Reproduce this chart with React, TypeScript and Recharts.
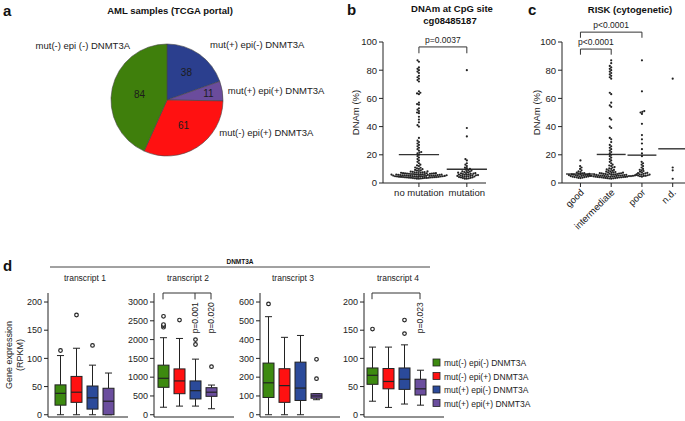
import {
  Bar,
  Cell,
  ComposedChart,
  Pie,
  PieChart,
  ReferenceLine,
  Scatter,
  ScatterChart,
  XAxis,
  YAxis,
} from "recharts";

const FONT = '"Liberation Sans", Arial, Helvetica, sans-serif';
const INK = "#222";

// ---- panel a: AML samples ----
const pieNames = ["mut(+) epi(-) DNMT3A", "mut(+) epi(+) DNMT3A", "mut(-) epi(+) DNMT3A", "mut(-) epi (-) DNMT3A"];
const pieCounts = [38, 11, 61, 84];
const pieColors = ["#2b3f8e", "#6b4c9c", "#ff1111", "#3f7f0c"];

// ---- panel b: DNAm at cg08485187 by mutation status ----
const mutationGroups = ["no mutation", "mutation"];
const noMutationDNAm = [
  87, 86, 82, 81, 80, 79, 78, 76, 75, 74, 73, 72, 65, 64, 63.5, 63, 57, 56, 55.5, 53, 52, 51, 50, 49.5,
  47, 45, 43, 41, 40, 32, 30, 29, 28, 27, 26, 25, 24, 23, 22, 21.5, 21, 20, 19, 18, 17, 16, 15, 14, 13,
  12, 12.5, 11, 10.8, 10.4, 10, 9.8, 9.3, 9, 8.8, 8.5, 8.2, 8, 7.9, 7.7, 7.6, 7.5, 7.4, 7.3, 7.2, 7.1,
  7.0, 7.0, 6.9, 6.8, 6.8, 6.7, 6.6, 6.5, 6.5, 6.4, 6.3, 6.3, 6.2, 6.1, 6.0, 6.0, 6.0, 5.9, 5.9, 5.8,
  5.8, 5.7, 5.7, 5.6, 5.6, 5.5, 5.5, 5.4, 5.4, 5.3, 5.3, 5.2, 5.2, 5.1, 5.1, 5.0, 5.0, 5.0, 4.9, 4.9,
  4.8, 4.8, 4.7, 4.7, 4.6, 4.6, 4.5, 4.5, 4.4, 4.4, 4.3, 4.3, 4.2, 4.2, 4.1, 4.0, 4.0, 3.9, 3.9, 3.8,
  3.8, 3.7, 3.6, 3.6, 3.5, 3.4, 3.3, 3.2, 3.1, 3.0,
];
const mutationDNAm = [
  80, 39, 33, 17, 16, 14, 13, 12, 11, 10.5, 10, 9.6, 9.2, 8.8, 8.5, 8.2, 8, 7.8, 7.5, 7.3, 7.1, 7, 6.8,
  6.6, 6.5, 6.3, 6.2, 6, 5.9, 5.8, 5.6, 5.5, 5.4, 5.3, 5.1, 5, 4.9, 4.8, 4.6, 4.5, 4.4, 4.2, 4, 3.9,
  3.7, 3.5, 3.3, 3.1, 3,
];

// ---- panel c: DNAm by cytogenetic risk ----
const riskGroups = ["good", "intermediate", "poor", "n.d."];
const goodDNAm = [
  16, 12, 11, 10, 9, 8.2, 7.8, 7.4, 7.1, 6.9, 6.7, 6.5, 6.3, 6.1, 6, 5.9, 5.7, 5.6, 5.5, 5.4, 5.2, 5.1,
  5, 4.9, 4.8, 4.6, 4.5, 4.4, 4.2, 4.1, 4, 3.8, 3.6, 3.5,
];
const intermediateDNAm = [
  87, 85, 83, 82, 81, 80, 79, 78, 77, 76, 75, 74, 64, 63, 57, 55, 54, 46, 45, 40, 39, 32, 31, 29, 27,
  26, 25, 24, 23, 22, 21, 20, 19, 18, 17, 16, 15, 14, 13, 12, 12.4, 11, 11.3, 10, 10.4, 9, 9.3, 9.6, 8,
  8.3, 8.6, 7.8, 7.6, 7.5, 7.3, 7.2, 7, 6.9, 6.8, 6.7, 6.6, 6.5, 6.4, 6.3, 6.2, 6.1, 6, 6, 5.9, 5.8,
  5.8, 5.7, 5.6, 5.6, 5.5, 5.5, 5.4, 5.4, 5.3, 5.3, 5.2, 5.2, 5.1, 5.1, 5, 5, 4.9, 4.9, 4.8, 4.8, 4.7,
  4.7, 4.6, 4.5, 4.5, 4.4, 4.3, 4.3, 4.2, 4.1, 4, 4, 3.9, 3.8, 3.7, 3.6, 3.5, 3.4, 3.3, 3.2, 3.1,
];
const poorDNAm = [
  87, 65, 51, 50.5, 50, 49, 42, 34, 31, 28, 24, 21, 19, 15, 14, 13, 12, 11, 10, 9.4, 9, 8.5, 8, 7.6,
  7.2, 7, 6.8, 6.5, 6.2, 6, 5.9, 5.8, 5.5, 5.3, 5.1, 5, 4.8, 4.5,
];
const notDeterminedDNAm = [74, 11, 9, 3];

// ---- panel d: DNMT3A transcript expression (RPKM) ----
const boxGroups = ["mut(-) epi(-) DNMT3A", "mut(-) epi(+) DNMT3A", "mut(+) epi(-) DNMT3A", "mut(+) epi(+) DNMT3A"];
const boxColors = ["#3d8a10", "#ff1111", "#2b4a9a", "#6b4e9e"];
// [min whisker, Q1, median, Q3, max whisker]
const transcript1Stats = [[0, 17, 38, 53, 105], [0, 22, 40, 68, 118], [0, 10, 30, 51, 88], [0, 0, 24, 47, 74]];
const transcript1Outliers = [[114], [177], [123], []];
const transcript2Stats = [[200, 730, 970, 1320, 2050], [230, 560, 900, 1220, 2030], [230, 420, 640, 900, 1480], [160, 490, 600, 720, 790]];
const transcript2Outliers = [[2330, 2370, 2400, 2620], [2520], [1870, 2000], [1280]];
const transcript3Stats = [[0, 92, 170, 275, 522], [0, 66, 155, 245, 412], [0, 76, 142, 280, 422], [80, 88, 100, 112, 112]];
const transcript3Outliers = [[590], [], [], [192, 295]];
const transcript4Stats = [[24, 54, 70, 83, 120], [13, 46, 59, 82, 120], [19, 45, 63, 83, 124], [17, 35, 46, 63, 79]];
const transcript4Outliers = [[152], [], [144, 168], []];

type ViewBox = { x?: number; y?: number; width?: number; height?: number };

const mean = (values: number[]) => values.reduce((s, v) => s + v, 0) / values.length;

// beeswarm layout: each dot goes to the free spot nearest the group centre.
// xPx / yPx are pixels per data unit on each axis, gap is the dot spacing in px.
function swarm(values: number[], center: number, xPx: number, yPx: number, gap: number) {
  const placed: { px: number; py: number }[] = [];
  const dots: { x: number; y: number }[] = [];
  [...values]
    .sort((a, b) => a - b)
    .forEach((v) => {
      const py = v * yPx;
      const blocked: [number, number][] = [];
      placed.forEach((p) => {
        const dy = Math.abs(p.py - py);
        if (dy < gap) {
          const half = Math.sqrt(gap * gap - dy * dy);
          blocked.push([p.px - half, p.px + half]);
        }
      });
      const candidates = [0, ...blocked.flat()].sort((a, b) => Math.abs(a) - Math.abs(b));
      const px = candidates.find((c) => blocked.every(([lo, hi]) => c <= lo + 1e-6 || c >= hi - 1e-6)) ?? 0;
      placed.push({ px, py });
      dots.push({ x: center + px / xPx, y: v });
    });
  return dots;
}

const dotShape = (p: any) => <circle cx={p.cx} cy={p.cy} r={1.1} fill={INK} />;

function pLabelAbove(text: string) {
  return ({ viewBox }: { viewBox?: ViewBox }) => {
    if (typeof viewBox?.x !== "number" || typeof viewBox.y !== "number") return null;
    return (
      <text x={viewBox.x + (viewBox.width ?? 0) / 2} y={viewBox.y - 4} textAnchor="middle" fontSize={8.5} fill={INK} fontFamily={FONT}>
        {text}
      </text>
    );
  };
}

function pLabelVertical(text: string, dx: number) {
  return ({ viewBox }: { viewBox?: ViewBox }) => {
    if (typeof viewBox?.x !== "number" || typeof viewBox.y !== "number") return null;
    const x = viewBox.x + dx;
    const y = viewBox.y + (viewBox.height ?? 0) + 3;
    return (
      <text x={x} y={y} transform={`rotate(-90 ${x} ${y})`} textAnchor="end" fontSize={8.5} fill={INK} fontFamily={FONT}>
        {text}
      </text>
    );
  };
}

const lineStyle = { stroke: "#333", strokeWidth: 1, ifOverflow: "visible" as const };

function bracket(key: string, from: any, to: any, top: number, drop: number, text: string) {
  return [
    <ReferenceLine key={`${key}h`} segment={[{ x: from, y: top }, { x: to, y: top }]} {...lineStyle} label={pLabelAbove(text)} />,
    <ReferenceLine key={`${key}l`} segment={[{ x: from, y: top }, { x: from, y: top - drop }]} {...lineStyle} />,
    <ReferenceLine key={`${key}r`} segment={[{ x: to, y: top }, { x: to, y: top - drop }]} {...lineStyle} />,
  ];
}

const axisTick = { fontSize: 9.5, fill: INK, fontFamily: FONT };

// ---------------- panel a ----------------
const pieLabelAngle = [52, 9, -32, 124];
const pieLabelRadius = [1.25, 1.1, 1.1, 1.18];
const pieValueRadius = [0.6, 0.75, 0.55, 0.5];

function renderPieLabel(props: any) {
  const { cx, cy, midAngle, outerRadius, index, value } = props;
  const rad = Math.PI / 180;
  const vr = outerRadius * pieValueRadius[index];
  const vx = cx + vr * Math.cos(midAngle * rad);
  const vy = cy - vr * Math.sin(midAngle * rad);
  const lr = outerRadius * pieLabelRadius[index];
  const la = pieLabelAngle[index] * rad;
  const lx = cx + lr * Math.cos(la);
  const ly = cy - lr * Math.sin(la);
  return (
    <g fontFamily={FONT}>
      <text x={vx} y={vy + 3.5} textAnchor="middle" fontSize={10} fill="#1c1c1c">
        {value}
      </text>
      <text x={lx} y={ly + 3.5} textAnchor={lx < cx ? "end" : "start"} fontSize={9.5} fill={INK}>
        {pieNames[index]}
      </text>
    </g>
  );
}

function PanelA() {
  const data = pieNames.map((name, i) => ({ name, value: pieCounts[i] }));
  return (
    <PieChart width={340} height={200} margin={{ top: 0, right: 0, bottom: 0, left: 0 }}>
      <Pie
        data={data}
        dataKey="value"
        cx={167}
        cy={100}
        outerRadius={56}
        startAngle={90}
        endAngle={-270}
        stroke="#444"
        strokeWidth={0.6}
        labelLine={false}
        label={renderPieLabel}
        isAnimationActive={false}
      >
        {data.map((d, i) => (
          <Cell key={d.name} fill={pieColors[i]} />
        ))}
      </Pie>
    </PieChart>
  );
}

// ---------------- panel b ----------------
function PanelB() {
  const groups = [noMutationDNAm, mutationDNAm];
  return (
    <ScatterChart width={150} height={200} margin={{ top: 42, right: 4, bottom: 0, left: 0 }}>
      <XAxis
        type="number"
        dataKey="x"
        domain={[-0.75, 1.4]}
        allowDataOverflow
        ticks={[0, 1]}
        interval={0}
        tickFormatter={(v) => mutationGroups[v]}
        tick={axisTick}
        tickSize={4}
        stroke={INK}
        height={17}
      />
      <YAxis
        type="number"
        dataKey="y"
        domain={[0, 100]}
        ticks={[0, 20, 40, 60, 80, 100]}
        width={43}
        tickSize={4}
        stroke={INK}
        tick={axisTick}
        label={{ value: "DNAm (%)", angle: -90, position: "insideLeft", offset: 16, style: { textAnchor: "middle", fontSize: 9.5, fill: INK, fontFamily: FONT } }}
      />
      {groups.map((vals, i) => (
        <Scatter key={mutationGroups[i]} data={swarm(vals, i, 47.9, 1.41, 2)} shape={dotShape} isAnimationActive={false} />
      ))}
      {groups.map((vals, i) => (
        <ReferenceLine
          key={`mean${i}`}
          segment={[{ x: i - 0.42, y: mean(vals) }, { x: i + 0.42, y: mean(vals) }]}
          stroke="#333"
          strokeWidth={1.4}
          ifOverflow="visible"
        />
      ))}
      {bracket("p", 0, 1, 96.5, 4.5, "p=0.0037")}
    </ScatterChart>
  );
}

// ---------------- panel c ----------------
function RiskTick(props: any) {
  const { x, y, payload } = props;
  const tx = x + 4;
  const ty = y + 4;
  return (
    <text x={tx} y={ty} transform={`rotate(-45 ${tx} ${ty})`} textAnchor="end" fontSize={9.5} fill={INK} fontFamily={FONT}>
      {riskGroups[payload.value]}
    </text>
  );
}

function PanelC() {
  const groups = [goodDNAm, intermediateDNAm, poorDNAm, notDeterminedDNAm];
  return (
    <ScatterChart width={166} height={240} margin={{ top: 42, right: 0, bottom: 0, left: 0 }}>
      <XAxis
        type="number"
        dataKey="x"
        domain={[-0.6, 3.4]}
        allowDataOverflow
        ticks={[0, 1, 2, 3]}
        interval={0}
        tick={(p: any) => <RiskTick {...p} />}
        tickSize={4}
        stroke={INK}
        height={57}
      />
      <YAxis
        type="number"
        dataKey="y"
        domain={[0, 100]}
        ticks={[0, 20, 40, 60, 80, 100]}
        width={43}
        tickSize={4}
        stroke={INK}
        tick={axisTick}
        label={{ value: "DNAm (%)", angle: -90, position: "insideLeft", offset: 18, style: { textAnchor: "middle", fontSize: 9.5, fill: INK, fontFamily: FONT } }}
      />
      {groups.map((vals, i) => (
        <Scatter key={riskGroups[i]} data={swarm(vals, i, 30.75, 1.41, 2)} shape={dotShape} isAnimationActive={false} />
      ))}
      {groups.map((vals, i) => (
        <ReferenceLine
          key={`mean${i}`}
          segment={[{ x: i - 0.47, y: mean(vals) }, { x: i + 0.47, y: mean(vals) }]}
          stroke="#333"
          strokeWidth={1.4}
          ifOverflow="visible"
        />
      ))}
      {bracket("gi", 0, 1, 95, 4, "p<0.0001")}
      {bracket("gp", 0, 2, 107, 4, "p<0.0001")}
    </ScatterChart>
  );
}

// ---------------- panel d ----------------
function BoxShape(props: any) {
  const { x, y, width, height, payload } = props;
  const [min, q1, med, q3, max] = payload.stats as number[];
  const top = Math.min(y, y + height);
  const bottom = Math.max(y, y + height);
  const k = (bottom - top) / (max - min);
  const py = (v: number) => bottom - (v - min) * k;
  const cx = x + width / 2;
  const cap = width * 0.32;
  const color = boxColors[boxGroups.indexOf(payload.group)];
  const outliers = payload.outliers as number[];
  return (
    <g stroke={INK} strokeWidth={1}>
      <line x1={cx} x2={cx} y1={py(max)} y2={py(q3)} />
      <line x1={cx} x2={cx} y1={py(q1)} y2={py(min)} />
      <line x1={cx - cap} x2={cx + cap} y1={py(max)} y2={py(max)} />
      <line x1={cx - cap} x2={cx + cap} y1={py(min)} y2={py(min)} />
      <rect x={x} y={py(q3)} width={width} height={Math.max(py(q1) - py(q3), 0.5)} fill={color} />
      <line x1={x} x2={x + width} y1={py(med)} y2={py(med)} strokeWidth={1.2} />
      {outliers.map((v, i) => (
        <circle key={i} cx={cx} cy={py(v)} r={1.8} fill="#fff" strokeWidth={1.2} />
      ))}
    </g>
  );
}

type TranscriptPanel = {
  name: string;
  stats: number[][];
  outliers: number[][];
  domain: [number, number];
  ticks: number[];
  axisX: number;
  yWidth: number;
  padLeft: number;
  brackets: { to: number; top: number; drop: number; text: string; dx: number }[];
};

const transcriptPanels: TranscriptPanel[] = [
  {
    name: "transcript 1",
    stats: transcript1Stats,
    outliers: transcript1Outliers,
    domain: [-4, 216],
    ticks: [0, 50, 100, 150, 200],
    axisX: 48,
    yWidth: 30,
    padLeft: 4,
    brackets: [],
  },
  {
    name: "transcript 2",
    stats: transcript2Stats,
    outliers: transcript2Outliers,
    domain: [-60, 3240],
    ticks: [0, 500, 1000, 1500, 2000, 2500, 3000],
    axisX: 154,
    yWidth: 36,
    padLeft: 1,
    brackets: [
      { to: 2, top: 3240, drop: 170, text: "p=0.001", dx: 3.5 },
      { to: 3, top: 3240, drop: 170, text: "p=0.020", dx: 3 },
    ],
  },
  {
    name: "transcript 3",
    stats: transcript3Stats,
    outliers: transcript3Outliers,
    domain: [-12, 648],
    ticks: [0, 100, 200, 300, 400, 500, 600],
    axisX: 260,
    yWidth: 30,
    padLeft: 0,
    brackets: [],
  },
  {
    name: "transcript 4",
    stats: transcript4Stats,
    outliers: transcript4Outliers,
    domain: [-4, 216],
    ticks: [0, 50, 100, 150, 200],
    axisX: 364,
    yWidth: 30,
    padLeft: 0,
    brackets: [{ to: 3, top: 216, drop: 11, text: "p=0.023", dx: 3 }],
  },
];

function TranscriptChart({ panel }: { panel: TranscriptPanel }) {
  const rows = boxGroups.map((group, i) => ({
    group,
    range: [panel.stats[i][0], panel.stats[i][4]],
    stats: panel.stats[i],
    outliers: panel.outliers[i],
  }));
  const plotWidth = 80;
  const widest = panel.brackets.length ? Math.max(...panel.brackets.map((b) => b.to)) : 0;
  return (
    <div style={{ position: "absolute", left: panel.axisX - panel.yWidth, top: 285 }}>
      <ComposedChart width={panel.yWidth + plotWidth + 2} height={134} data={rows} margin={{ top: 8, right: 2, bottom: 0, left: 0 }}>
        <XAxis
          dataKey="group"
          tick={false}
          tickLine={false}
          height={2}
          stroke={INK}
          padding={{ left: panel.padLeft, right: plotWidth - 64 - panel.padLeft }}
        />
        <YAxis
          type="number"
          domain={panel.domain}
          allowDataOverflow
          ticks={panel.ticks}
          interval={0}
          width={panel.yWidth}
          tickSize={4}
          stroke={INK}
          tick={{ fontSize: 9, fill: INK, fontFamily: FONT }}
        />
        <Bar dataKey="range" barSize={11} shape={(p: any) => <BoxShape {...p} />} isAnimationActive={false} />
        {panel.brackets.length > 0 && (
          <ReferenceLine
            segment={[
              { x: boxGroups[0], y: panel.brackets[0].top },
              { x: boxGroups[widest], y: panel.brackets[0].top },
            ]}
            {...lineStyle}
          />
        )}
        {panel.brackets.length > 0 && (
          <ReferenceLine
            segment={[
              { x: boxGroups[0], y: panel.brackets[0].top },
              { x: boxGroups[0], y: panel.brackets[0].top - panel.brackets[0].drop },
            ]}
            {...lineStyle}
          />
        )}
        {panel.brackets.map((b) => (
          <ReferenceLine
            key={b.text}
            segment={[
              { x: boxGroups[b.to], y: b.top },
              { x: boxGroups[b.to], y: b.top - b.drop },
            ]}
            {...lineStyle}
            label={pLabelVertical(b.text, b.dx)}
          />
        ))}
      </ComposedChart>
    </div>
  );
}

// ---------------- figure text ----------------
function FigureText() {
  const bold = { fontFamily: FONT, fontWeight: 700, fill: "#111" };
  const plain = { fontFamily: FONT, fill: INK };
  const transcriptCenters = [85, 188, 293, 398];
  return (
    <svg width={685} height={421} style={{ position: "absolute", left: 0, top: 0 }}>
      <text x={3} y={16} fontSize={15} {...bold}>a</text>
      <text x={170} y={14} fontSize={9.5} textAnchor="middle" {...bold}>AML samples (TCGA portal)</text>
      <text x={347} y={15} fontSize={15} {...bold}>b</text>
      <text x={452} y={12} fontSize={9.5} textAnchor="middle" {...bold}>DNAm at CpG site</text>
      <text x={450} y={24} fontSize={9.5} textAnchor="middle" {...bold}>cg08485187</text>
      <text x={528} y={15} fontSize={15} {...bold}>c</text>
      <text x={630} y={13} fontSize={9.5} textAnchor="middle" {...bold}>RISK (cytogenetic)</text>
      <text x={3} y={271} fontSize={15} {...bold}>d</text>
      <text x={240} y={264} fontSize={6.5} textAnchor="middle" {...bold}>DNMT3A</text>
      <line x1={50} x2={430} y1={267} y2={267} stroke="#444" strokeWidth={1} />
      {transcriptPanels.map((p, i) => (
        <text key={p.name} x={transcriptCenters[i]} y={281} fontSize={8.5} textAnchor="middle" {...plain}>
          {p.name}
        </text>
      ))}
      <text x={12} y={355} fontSize={9} textAnchor="middle" transform="rotate(-90 12 355)" {...plain}>Gene expression</text>
      <text x={23} y={355} fontSize={9} textAnchor="middle" transform="rotate(-90 23 355)" {...plain}>(RPKM)</text>
      {boxGroups.map((g, i) => (
        <g key={g}>
          <rect x={433} y={359 + i * 13.5} width={7} height={7} fill={boxColors[i]} stroke={INK} strokeWidth={0.8} />
          <text x={444} y={366 + i * 13.5} fontSize={8.5} {...plain}>{g}</text>
        </g>
      ))}
    </svg>
  );
}

export default function App() {
  return (
    <div style={{ position: "relative", width: 685, height: 421, background: "#fff", overflow: "hidden" }}>
      <style>{"body{margin:0}"}</style>
      <FigureText />
      <div style={{ position: "absolute", left: 0, top: 0 }}>
        <PanelA />
      </div>
      <div style={{ position: "absolute", left: 340, top: 0 }}>
        <PanelB />
      </div>
      <div style={{ position: "absolute", left: 519, top: 0 }}>
        <PanelC />
      </div>
      {transcriptPanels.map((p) => (
        <TranscriptChart key={p.name} panel={p} />
      ))}
    </div>
  );
}
